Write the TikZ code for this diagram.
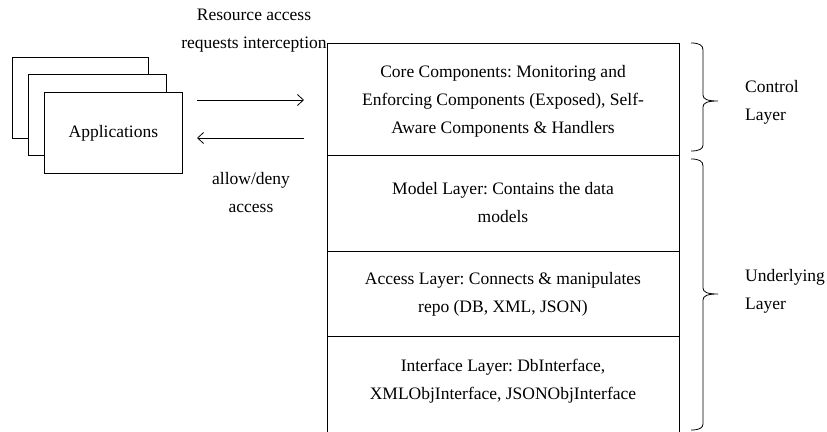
\documentclass[tikz,border=0pt]{standalone}
\usepackage{fontspec}
\setmainfont{Liberation Serif}
\usetikzlibrary{arrows.meta}
\frenchspacing
\begin{document}
\begin{tikzpicture}[x=1pt,y=-1pt,
  txt/.style={inner sep=0pt,align=center,font=\fontsize{17.5}{28}\selectfont},
  appbox/.style={draw,fill=white,line width=0.8pt},
  arr/.style={-{Straight Barb[length=6pt,width=11pt]},line width=0.8pt},
  br/.style={line width=0.8pt}]
\useasboundingbox (0,0) rectangle (827,431);
% applications stack
\draw[appbox] (12,57) rectangle (148,138);
\draw[appbox] (28,74) rectangle (166,155);
\node[appbox,minimum width=138pt,minimum height=81pt,anchor=north west,inner sep=0pt] (app) at (44,92) {};
\node[txt] (apptxt) at (app.center) {Applications};
% layer stack
\coordinate (tl) at (327,43);
\coordinate (tr) at (679,43);
\draw[line width=0.8pt] (327,440) -- (tl) -- (tr) -- (679,440);
\draw[line width=0.8pt] (327,155) -- (679,155);
\draw[line width=0.8pt] (327,251) -- (679,251);
\draw[line width=0.8pt] (327,336) -- (679,336);
\node[txt] (core) at (503,101) {Core Components: Monitoring and\\Enforcing Components (Exposed), Self-\\Aware Components \& Handlers};
\node[txt] (model) at (503,203) {Model Layer: Contains the data\\models};
\node[txt] (access) at (503,294) {Access Layer: Connects \& manipulates\\repo (DB, XML, JSON)};
\node[txt] (iface) at (503,381) {Interface Layer: DbInterface,\\XMLObjInterface, JSONObjInterface};
% arrows
\coordinate (a1s) at (197,100);
\coordinate (a1e) at (304,100);
\coordinate (a2s) at (304,138);
\coordinate (a2e) at (197,138);
\draw[arr] (a1s) -- (a1e);
\draw[arr] (a2s) -- (a2e);
\node[txt] (req) at (254,31) {Resource access\\requests interception};
\node[txt] (allow) at (251,193) {allow/deny\\access};
% braces
\draw[br] (691,43) .. controls (699,43) and (703,45) .. (703,50) -- (703,95)
  .. controls (703,99) and (707,101) .. (718,101)
  .. controls (707,101) and (703,103) .. (703,107) -- (703,145)
  .. controls (703,149) and (699,151) .. (691,151);
\draw[br] (691,159) .. controls (699,159) and (703,161) .. (703,166) -- (703,288)
  .. controls (703,292) and (707,294) .. (718,294)
  .. controls (707,294) and (703,296) .. (703,300) -- (703,424)
  .. controls (703,428) and (699,430) .. (691,430);
\node[txt,align=left,anchor=west] (ctl) at (745,102) {Control\\Layer};
\node[txt,align=left,anchor=west] (und) at (745,291) {Underlying\\Layer};
\end{tikzpicture}
\end{document}
